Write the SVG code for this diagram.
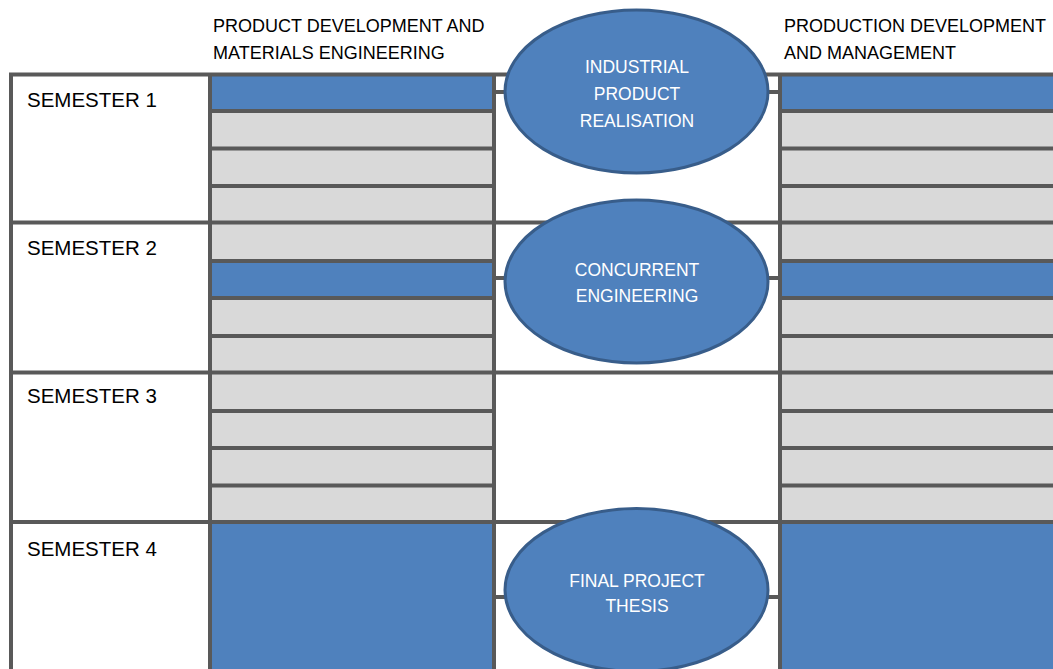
<svg xmlns="http://www.w3.org/2000/svg" width="1053" height="669" viewBox="0 0 1053 669">
<style>
.gray{fill:#d9d9d9}
.blue{fill:#4f81bd}
.ln{stroke:#595959;stroke-width:4;fill:none}
.conn{stroke:#595959;stroke-width:4;fill:none}
.ell{fill:#4f81bd;stroke:#385d8a;stroke-width:3}
.hdr{font-family:"Liberation Sans",Arial,sans-serif;font-size:18px;fill:#000}
.sem{font-family:"Liberation Sans",Arial,sans-serif;font-size:20.5px;fill:#000}
.et{font-family:"Liberation Sans",Arial,sans-serif;font-size:17.5px;fill:#fff;text-anchor:middle}
</style>
<rect width="1053" height="669" fill="#fff"/>
<g id="headers">
<text class="hdr" x="213" y="32">PRODUCT DEVELOPMENT AND</text>
<text class="hdr" x="213" y="59">MATERIALS ENGINEERING</text>
<text class="hdr" x="784" y="32">PRODUCTION DEVELOPMENT</text>
<text class="hdr" x="784" y="59">AND MANAGEMENT</text>
</g>
<g id="left-courses">
<rect class="gray" x="210" y="74" width="284" height="448"/>
<rect class="blue" x="210" y="74" width="284" height="37"/>
<rect class="blue" x="210" y="261" width="284" height="37"/>
<rect class="blue" x="210" y="522" width="284" height="147"/>
</g>
<g id="right-courses">
<rect class="gray" x="780" y="74" width="273" height="448"/>
<rect class="blue" x="780" y="74" width="273" height="37"/>
<rect class="blue" x="780" y="261" width="273" height="37"/>
<rect class="blue" x="780" y="522" width="273" height="147"/>
</g>
<g id="grid">
<path class="ln" d="M210 111H494M210 148.5H494M210 186H494M210 261H494M210 298H494M210 336H494M210 411H494M210 448H494M210 485.5H494"/>
<path class="ln" d="M780 111H1053M780 148.5H1053M780 186H1053M780 261H1053M780 298H1053M780 336H1053M780 411H1053M780 448H1053M780 485.5H1053"/>
<path class="ln" d="M9 74.5H1053M11 222.5H1053M11 372.5H1053M11 522H1053"/>
<path class="ln" d="M11 73V669M210 73V669M494 73V669M780 73V669"/>
</g>
<g id="semesters">
<text class="sem" x="27" y="107">SEMESTER 1</text>
<text class="sem" x="27" y="255">SEMESTER 2</text>
<text class="sem" x="27" y="403">SEMESTER 3</text>
<text class="sem" x="27" y="556">SEMESTER 4</text>
</g>
<g id="connectors">
<path class="conn" d="M494 92H780M494 278H780M494 597H780"/>
</g>
<g id="industrial-product-realisation">
<ellipse class="ell" cx="636.5" cy="91.5" rx="131.5" ry="81.5"/>
<text class="et" x="637" y="73">INDUSTRIAL</text>
<text class="et" x="637" y="100">PRODUCT</text>
<text class="et" x="637" y="126.5">REALISATION</text>
</g>
<g id="concurrent-engineering">
<ellipse class="ell" cx="636.5" cy="281.5" rx="131.5" ry="81.5"/>
<text class="et" x="637" y="276">CONCURRENT</text>
<text class="et" x="637" y="302">ENGINEERING</text>
</g>
<g id="final-project-thesis">
<ellipse class="ell" cx="636.5" cy="590" rx="131.5" ry="81.5"/>
<text class="et" x="637" y="586.5">FINAL PROJECT</text>
<text class="et" x="637" y="612">THESIS</text>
</g>
</svg>
